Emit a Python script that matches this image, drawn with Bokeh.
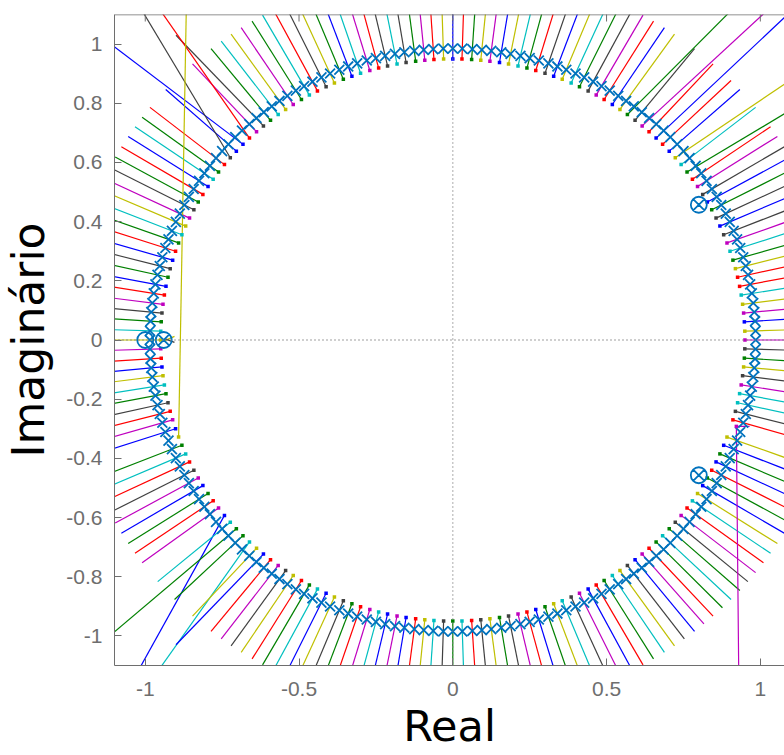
import numpy as np
from bokeh.plotting import figure
from bokeh.models import Range1d, FixedTicker, Span
from bokeh.embed import file_html
from bokeh.resources import INLINE

# ---------------- data ----------------
# angle (deg) of each locus branch start (196 branches around the unit circle)
pole_angle_deg = [
    0.0, 1.8, 3.7, 5.5, 7.3, 9.2, 11.0, 12.9, 14.7, 16.5, 18.4, 20.2, 22.0, 23.9, 25.7, 27.6, 29.4,
    31.2, 33.1, 34.9, 36.7, 38.6, 40.4, 42.2, 44.1, 45.9, 47.8, 49.6, 51.4, 53.3, 55.1, 56.9, 58.8,
    60.6, 62.4, 64.3, 66.1, 68.0, 69.8, 71.6, 73.5, 75.3, 77.1, 79.0, 80.8, 82.7, 84.5, 86.3, 88.2,
    90.0, 91.8, 93.7, 95.5, 97.3, 99.2, 101.0, 102.9, 104.7, 106.5, 108.4, 110.2, 112.0, 113.9, 115.7,
    117.6, 119.4, 121.2, 123.1, 124.9, 126.7, 128.6, 130.4, 132.2, 134.1, 135.9, 137.8, 139.6, 141.4,
    143.3, 145.1, 146.9, 148.8, 150.6, 152.4, 154.3, 156.1, 158.0, 159.8, 161.6, 163.5, 165.3, 167.1,
    169.0, 170.8, 172.7, 174.5, 176.3, 178.2,
    180.0, 181.8, 183.7, 185.5, 187.3, 189.2, 191.0, 192.9, 194.7, 196.5, 198.4, 200.2, 202.0, 203.9,
    205.7, 207.6, 209.4, 211.2, 213.1, 214.9, 216.7, 218.6, 220.4, 222.2, 224.1, 225.9, 227.8, 229.6,
    231.4, 233.3, 235.1, 236.9, 238.8, 240.6, 242.4, 244.3, 246.1, 248.0, 249.8, 251.6, 253.5, 255.3,
    257.1, 259.0, 260.8, 262.7, 264.5, 266.3, 268.2,
    270.0, 271.8, 273.7, 275.5, 277.3, 279.2, 281.0, 282.9, 284.7, 286.5, 288.4, 290.2, 292.0, 293.9,
    295.7, 297.6, 299.4, 301.2, 303.1, 304.9, 306.7, 308.6, 310.4, 312.2, 314.1, 315.9, 317.8, 319.6,
    321.4, 323.3, 325.1, 326.9, 328.8, 330.6, 332.4, 334.3, 336.1, 338.0, 339.8, 341.6, 343.5, 345.3,
    347.1, 349.0, 350.8, 352.7, 354.5, 356.3, 358.2,
]
# MATLAB colour letter of each branch
branch_colour_codes = (
    "mybmycrryg" "cmkbkgbkmr" "gcybrbrmkg" "ybrmkgcybk" "rgcybmygrb"
    "yrmgkckrmc" "bgykrcgmyc" "gkmrbbkrgc" "brgkmycgrb" "kgbrmkgcym"
    "rbycgkrmby" "gcrkmbgrmb" "cggcybrmky" "rgcbykgrmc" "bmbryckgcr"
    "kygkmrbgyc" "kmbrgcykbm" "rgcgkmrcyb" "grbgbymrkc" "cmkygk"
)
branch_start_radius = 0.95     # where each branch begins (small dot)
branch_end_radius = 1.26       # where most branches stop
pole_marker_radius = 0.985     # ring of pole crosses

# branches that run further (index, end x, end y)
long_branch_index = [20, 22, 25, 27, 29, 71, 73, 74, 76, 119, 121, 123, 125, 109]
long_branch_end_x = [1.20, 1.20, 1.14, 1.06, 0.94, -0.90, -0.975, -1.15, -1.02, -1.04, -1.15, -0.98, -0.90, -0.866]
long_branch_end_y = [0.84, 0.95, 1.15, 1.15, 1.15, 1.03, 1.15, 1.03, 1.13, -1.15, -1.03, -1.15, -1.03, 1.15]
# bent branch on the lower right
bent_branch_index = 186
bent_branch_x = [0.965, 0.922, 0.930]
bent_branch_y = [-0.292, -0.292, -1.15]

# short segments leaving the pole/zero pair on the negative real axis
pair_seg_x = [[-0.94, -0.905], [-0.935, -0.905]]
pair_seg_y = [[-0.004, 0.012], [0.004, -0.008]]
pair_seg_colour = ["#BFBF00", "#404040"]

# pole/zero pairs and zeros
pz_pair_x = [0.80, 0.80, -0.94]
pz_pair_y = [0.457, -0.457, 0.0]
zero_x = [-1.0]
zero_y = [0.0]

x_ticks = [-1, -0.5, 0, 0.5, 1]
x_tick_labels = ["-1", "-0.5", "0", "0.5", "1"]
y_ticks = [-1, -0.8, -0.6, -0.4, -0.2, 0, 0.2, 0.4, 0.6, 0.8, 1]
y_tick_labels = ["-1", "-0.8", "-0.6", "-0.4", "-0.2", "0", "0.2", "0.4", "0.6", "0.8", "1"]

X_MIN, X_MAX, Y_MIN, Y_MAX = -1.1, 1.0786, -1.1, 1.1

# ---------------- build ----------------
colour_map = {"b": "#0000FF", "g": "#008000", "r": "#FF0000", "c": "#00BFBF",
              "m": "#BF00BF", "y": "#BFBF00", "k": "#404040"}
th = np.deg2rad(np.array(pole_angle_deg))
sx = branch_start_radius * np.cos(th)
sy = branch_start_radius * np.sin(th)
long_map = {i: (x, y) for i, x, y in zip(long_branch_index, long_branch_end_x, long_branch_end_y)}

xs, ys, cols = [], [], []
for i in range(len(pole_angle_deg)):
    c = colour_map[branch_colour_codes[i]]
    if i == bent_branch_index:
        xs.append(bent_branch_x); ys.append(bent_branch_y)
    elif i in long_map:
        ex, ey = long_map[i]
        xs.append([sx[i], ex]); ys.append([sy[i], ey])
    else:
        xs.append([sx[i], branch_end_radius * np.cos(th[i])])
        ys.append([sy[i], branch_end_radius * np.sin(th[i])])
    cols.append(c)

dot_x = list(sx); dot_y = list(sy)
dot_x[bent_branch_index] = bent_branch_x[1]
dot_y[bent_branch_index] = bent_branch_y[1]

TICK_FONT = "Liberation Sans"
LABEL_FONT = "DejaVu Sans"
AX = "#6e6e6e"

p = figure(width=784, height=755, output_backend="svg", toolbar_location=None,
           x_range=Range1d(X_MIN, X_MAX), y_range=Range1d(Y_MIN, Y_MAX),
           min_border_left=113, min_border_right=0, min_border_top=14, min_border_bottom=90)
p.outline_line_color = None
p.grid.visible = False
p.background_fill_color = "white"

p.add_layout(Span(location=0, dimension="width", line_color="#808080", line_dash="1 3", line_width=1.3))
p.add_layout(Span(location=0, dimension="height", line_color="#808080", line_dash="1 3", line_width=1.3))

p.multi_line(xs=xs, ys=ys, line_color=cols, line_width=1.2)
p.multi_line(xs=pair_seg_x, ys=pair_seg_y, line_color=pair_seg_colour, line_width=1.4)
p.scatter(x=list(pole_marker_radius * np.cos(th)), y=list(pole_marker_radius * np.sin(th)),
          marker="x", size=14, line_color="#0072BD", line_width=1.8)
p.scatter(x=dot_x, y=dot_y, marker="square", size=3.5, line_color=None, fill_color=cols)

p.scatter(x=pz_pair_x, y=pz_pair_y, marker="circle_x", size=16, line_color="#0072BD",
          fill_color=None, line_width=1.8)
p.scatter(x=zero_x, y=zero_y, marker="circle", size=16, line_color="#0072BD",
          fill_color=None, line_width=1.8)

# top border with inward ticks (box on)
p.add_layout(Span(location=Y_MAX, dimension="width", line_color=AX, line_width=1.3))
p.scatter(x=x_ticks, y=[Y_MAX] * len(x_ticks), marker="dash", angle=np.pi / 2, size=14,
          line_color=AX, line_width=1)

for ax, ticks, labels in ((p.xaxis[0], x_ticks, x_tick_labels), (p.yaxis[0], y_ticks, y_tick_labels)):
    ax.ticker = FixedTicker(ticks=ticks)
    ax.major_label_overrides = {t: l for t, l in zip(ticks, labels)}
    ax.minor_tick_line_color = None
    ax.major_tick_in = 7
    ax.major_tick_out = 0
    ax.axis_line_color = AX
    ax.major_tick_line_color = AX
    ax.major_label_text_color = AX
    ax.major_label_text_font = TICK_FONT
    ax.major_label_text_font_size = "21px"
    ax.axis_label_text_font = LABEL_FONT
    ax.axis_label_text_font_style = "normal"
    ax.axis_label_text_color = "black"

p.xaxis.axis_label = "Real"
p.yaxis.axis_label = "Imaginário"
p.xaxis.axis_label_text_font_size = "43px"
p.yaxis.axis_label_text_font_size = "44px"
p.xaxis.major_label_standoff = 16
p.yaxis.major_label_standoff = 12
p.xaxis.axis_label_standoff = 2
p.yaxis.axis_label_standoff = 9

open("out.html", "w").write(file_html(p, INLINE))
